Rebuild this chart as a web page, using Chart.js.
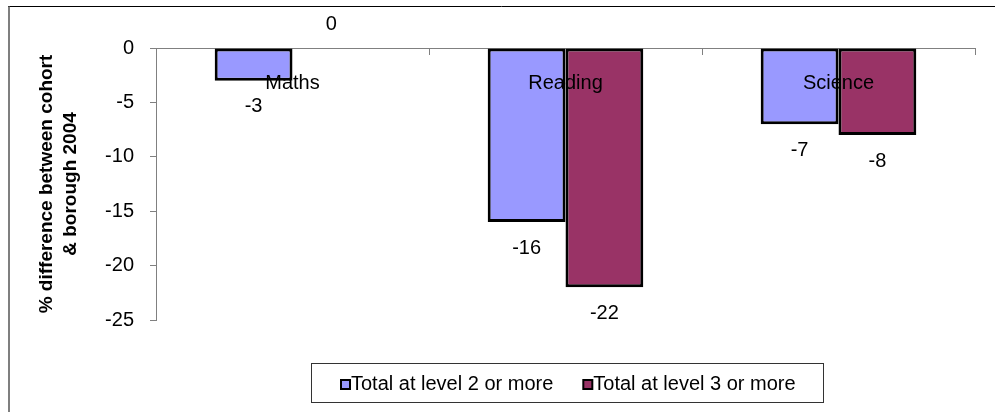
<!DOCTYPE html>
<html>
<head>
<meta charset="utf-8">
<script src="https://cdn.jsdelivr.net/npm/chart.js@4/dist/chart.umd.min.js"></script>
<style>
  html, body { margin: 0; padding: 0; background: #fff; }
  #wrap { width: 995px; height: 412px; }
</style>
</head>
<body>
<div id="wrap"><canvas id="myChart" width="995" height="412"></canvas></div>
<script>
// chart data
const categories = ['Maths', 'Reading', 'Science'];
const level2 = [-3, -16, -7];
const level3 = [0, -22, -8];
const seriesNames = ['Total at level 2 or more', 'Total at level 3 or more'];
const yTicks = [0, -5, -10, -15, -20, -25];

const FONT = "'Liberation Sans', Arial, sans-serif";

// outer frame (top and left edges only, rest is cropped)
const framePlugin = {
    id: 'frame',
    beforeDraw(chart) {
        const ctx = chart.ctx;
        ctx.save();
        ctx.strokeStyle = '#000';
        ctx.lineWidth = 1;
        ctx.beginPath();
        ctx.moveTo(8, 6.5);
        ctx.lineTo(995, 6.5);
        ctx.stroke();
        ctx.strokeStyle = '#555';
        ctx.lineWidth = 1.5;
        ctx.beginPath();
        ctx.moveTo(9, 6);
        ctx.lineTo(9, 412);
        ctx.stroke();
        ctx.restore();
    }
};

// value labels just past the end of each bar
const valueLabels = {
    id: 'valueLabels',
    afterDatasetsDraw(chart) {
        const ctx = chart.ctx;
        ctx.save();
        ctx.font = '20px ' + FONT;
        ctx.fillStyle = '#000';
        ctx.textAlign = 'center';
        ctx.textBaseline = 'middle';
        chart.data.datasets.forEach((ds, i) => {
            chart.getDatasetMeta(i).data.forEach((bar, j) => {
                const v = ds.data[j];
                const y = v < 0 ? bar.y + 26 : bar.y - 24;
                ctx.fillText(String(v), bar.x, y);
            });
        });
        ctx.restore();
    }
};

// boxed legend at the bottom
const boxLegend = {
    id: 'boxLegend',
    afterDraw(chart) {
        const ctx = chart.ctx;
        ctx.save();
        ctx.strokeStyle = '#333';
        ctx.lineWidth = 1;
        ctx.strokeRect(311.5, 363.5, 512, 39);
        ctx.font = '20px ' + FONT;
        ctx.textBaseline = 'middle';
        let x = 341;
        const cy = 384.5;
        chart.data.datasets.forEach(ds => {
            ctx.fillStyle = ds.backgroundColor;
            ctx.fillRect(x, cy - 4.5, 9, 9);
            ctx.strokeStyle = '#000';
            ctx.lineWidth = 2;
            ctx.strokeRect(x, cy - 4.5, 9, 9);
            ctx.fillStyle = '#000';
            ctx.fillText(ds.label, x + 10, cy);
            x += 10 + ctx.measureText(ds.label).width + 30;
        });
        ctx.restore();
    }
};

document.addEventListener('DOMContentLoaded', () => {
    const ctx = document.getElementById('myChart').getContext('2d');
    new Chart(ctx, {
        type: 'bar',
        data: {
            labels: categories,
            datasets: [{
                label: seriesNames[0],
                data: level2,
                backgroundColor: '#9999FF',
                borderColor: '#000',
                borderWidth: 3,
                borderSkipped: false
            }, {
                label: seriesNames[1],
                data: level3,
                backgroundColor: '#993366',
                borderColor: '#000',
                borderWidth: 3,
                borderSkipped: false
            }]
        },
        options: {
            responsive: false,
            animation: false,
            layout: { padding: { left: 0, right: 20, top: 48, bottom: 92 } },
            datasets: { bar: { categoryPercentage: 0.57, barPercentage: 1 } },
            plugins: {
                legend: { display: false },
                tooltip: { enabled: false }
            },
            scales: {
                x: {
                    position: { y: 0 },
                    grid: { drawOnChartArea: false, color: '#808080', tickLength: 6, offset: true },
                    border: { color: '#808080', width: 1 },
                    ticks: { z: 1, color: '#000', padding: 17, font: { family: FONT, size: 20 } }
                },
                y: {
                    min: -25,
                    max: 0,
                    afterBuildTicks(scale) {
                        scale.ticks = yTicks.map(v => ({ value: v }));
                    },
                    afterFit(scale) { scale.width = 156; },
                    grid: { drawOnChartArea: false, color: '#808080', tickLength: 6 },
                    border: { color: '#808080', width: 1 },
                    ticks: { color: '#000', padding: 16, font: { family: FONT, size: 20 } },
                    title: {
                        display: true,
                        text: ['% difference between cohort', '& borough 2004'],
                        color: '#000',
                        padding: { top: 34, bottom: 0 },
                        font: { family: FONT, size: 19, weight: 'bold', lineHeight: 1.3 }
                    }
                }
            }
        },
        plugins: [framePlugin, valueLabels, boxLegend]
    });
});
</script>
</body>
</html>
